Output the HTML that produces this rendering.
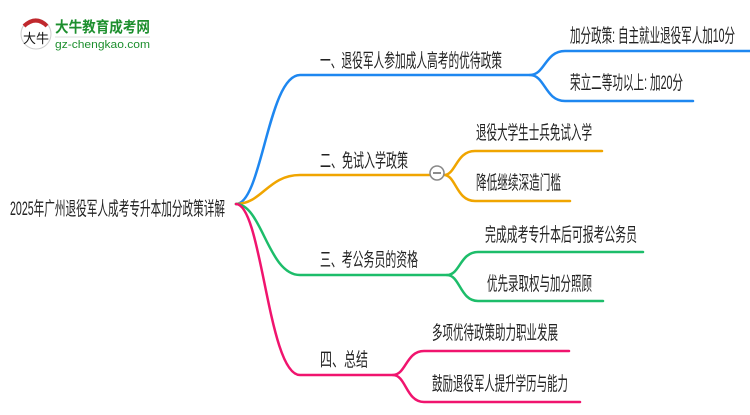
<!DOCTYPE html>
<html><head><meta charset="utf-8"><style>
body{margin:0;background:#fff;width:750px;height:410px;overflow:hidden}
text{font-family:"Liberation Sans","Noto Sans CJK SC",sans-serif;font-size:19px;fill:#222}
</style></head><body>
<svg width="750" height="410" viewBox="0 0 750 410" xmlns="http://www.w3.org/2000/svg">
<g fill="none" stroke-width="2.5" stroke-linecap="round">
<path d="M236 204 C262 204 268 75 300 75 L530 75" stroke="#1e87f0"/>
<path d="M530 75 C545 75 545 51 565 51 L750 51 M530 75 C545 75 545 101 565 101 L693 101" stroke="#1e87f0"/>
<path d="M236 204 C262 204 268 175 300 175 L430 175" stroke="#f0a500"/>
<path d="M444 175 C456 175 456 151 475 151 L602 151 M444 175 C456 175 456 201 475 201 L570 201" stroke="#f0a500"/>
<path d="M236 204 C262 204 268 275 300 275 L447 275" stroke="#1dbd6a"/>
<path d="M447 275 C460 275 460 252 478 252 L643 252 M447 275 C460 275 460 301 478 301 L603 301" stroke="#1dbd6a"/>
<path d="M236 204 C262 204 268 375 300 375 L393 375" stroke="#f0146e"/>
<path d="M393 375 C406 375 406 351 424 351 L569 351 M393 375 C406 375 406 402 424 402 L580 402" stroke="#f0146e"/>
</g>
<circle cx="437" cy="173" r="7" fill="#fff" stroke="#888" stroke-width="1.5"/>
<line x1="433" y1="173" x2="441" y2="173" stroke="#666" stroke-width="1.5"/>
<text x="10" y="215" textLength="215" lengthAdjust="spacingAndGlyphs">2025年广州退役军人成考专升本加分政策详解</text>
<text x="320" y="67" textLength="182" lengthAdjust="spacingAndGlyphs">一、退役军人参加成人高考的优待政策</text>
<text x="570" y="42" textLength="165" lengthAdjust="spacingAndGlyphs">加分政策: 自主就业退役军人加10分</text>
<text x="570" y="89" textLength="113" lengthAdjust="spacingAndGlyphs">荣立二等功以上: 加20分</text>
<text x="320" y="167" textLength="88" lengthAdjust="spacingAndGlyphs">二、免试入学政策</text>
<text x="476" y="139" textLength="116" lengthAdjust="spacingAndGlyphs">退役大学生士兵免试入学</text>
<text x="476" y="189" textLength="85" lengthAdjust="spacingAndGlyphs">降低继续深造门槛</text>
<text x="320" y="266" textLength="98" lengthAdjust="spacingAndGlyphs">三、考公务员的资格</text>
<text x="485" y="241" textLength="152" lengthAdjust="spacingAndGlyphs">完成成考专升本后可报考公务员</text>
<text x="487" y="290" textLength="105" lengthAdjust="spacingAndGlyphs">优先录取权与加分照顾</text>
<text x="320" y="366" textLength="48" lengthAdjust="spacingAndGlyphs">四、总结</text>
<text x="432" y="339" textLength="126" lengthAdjust="spacingAndGlyphs">多项优待政策助力职业发展</text>
<text x="432" y="390" textLength="136" lengthAdjust="spacingAndGlyphs">鼓励退役军人提升学历与能力</text>
<circle cx="36" cy="34" r="15" fill="#fff" stroke="#ccc" stroke-width="1"/>
<path d="M24 26 Q36 15 47 26" fill="none" stroke="#c0282d" stroke-width="4"/>
<text x="23" y="43" style="font-size:13px;fill:#111">大牛</text>
<text x="55" y="32" style="font-size:15px;font-weight:bold;fill:#1d8f2e" textLength="95" lengthAdjust="spacingAndGlyphs">大牛教育成考网</text>
<line x1="55" y1="37" x2="150" y2="37" stroke="#ddd"/>
<text x="55" y="48" style="font-size:11px;fill:#1d8f2e" textLength="95" lengthAdjust="spacingAndGlyphs">gz-chengkao.com</text>
</svg>
</body></html>
